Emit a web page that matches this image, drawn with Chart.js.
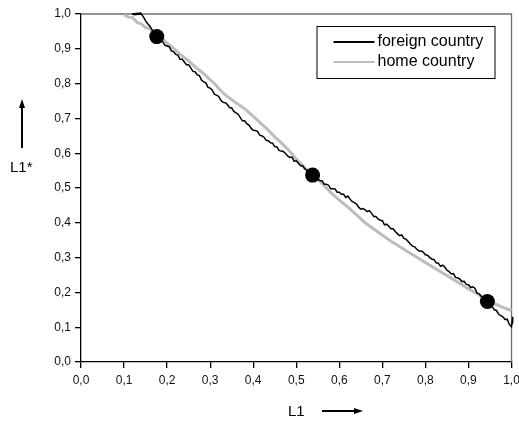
<!DOCTYPE html>
<html>
<head>
<meta charset="utf-8">
<script src="https://cdn.jsdelivr.net/npm/chart.js@4/dist/chart.umd.min.js"></script>
<style>
  html, body { margin: 0; padding: 0; background: #fff; }
  #wrap { width: 519px; height: 421px; position: relative; }
</style>
</head>
<body>
<div id="wrap"><canvas id="c" width="519" height="421"></canvas></div>
<script>
// Axis tick labels (decimal comma)
const xTickLabels = ['0,0','0,1','0,2','0,3','0,4','0,5','0,6','0,7','0,8','0,9','1,0'];
const yTickLabels = ['0,0','0,1','0,2','0,3','0,4','0,5','0,6','0,7','0,8','0,9','1,0'];

const seriesNames = ['foreign country', 'home country'];

// foreign country: L1 values
const foreignL1 = [
  0.118,0.140,0.122,0.140,0.145,0.150,0.155,0.160,0.165,0.170,0.175,
  0.180,0.185,0.190,0.195,0.200,0.205,0.210,0.215,0.220,0.225,0.230,0.235,0.240,0.245,
  0.250,0.255,0.260,0.265,0.270,0.275,0.280,0.285,0.290,0.295,0.300,0.305,0.310,0.315,
  0.320,0.325,0.330,0.335,0.340,0.345,0.350,0.355,0.360,0.365,0.370,0.375,0.380,0.385,
  0.390,0.395,0.400,0.405,0.410,0.415,0.420,0.425,0.430,0.435,0.440,0.445,0.450,0.455,
  0.460,0.465,0.470,0.475,0.480,0.485,0.490,0.495,0.500,0.505,0.510,0.515,0.520,0.525,
  0.530,0.535,0.540,0.545,0.550,0.555,0.560,0.565,0.570,0.575,0.580,0.585,0.590,0.595,
  0.600,0.605,0.610,0.615,0.620,0.625,0.630,0.635,0.640,0.645,0.650,0.655,0.660,0.665,
  0.670,0.675,0.680,0.685,0.690,0.695,0.700,0.705,0.710,0.715,0.720,0.725,0.730,0.735,
  0.740,0.745,0.750,0.755,0.760,0.765,0.770,0.775,0.780,0.785,0.790,0.795,0.800,0.805,
  0.810,0.815,0.820,0.825,0.830,0.835,0.840,0.845,0.850,0.855,0.860,0.865,0.870,0.875,
  0.880,0.885,0.890,0.895,0.900,0.905,0.910,0.915,0.920,0.925,0.930,0.935,0.940,0.945,
  0.950,0.955,0.960,0.965,0.970,0.975,0.980,0.985,0.990,0.995,1.000,1.003,1.002,1.003
];
// foreign country: L1* values
const foreignL1s = [
  1.000,1.003,0.998,1.000,0.992,0.980,0.972,0.965,0.955,0.944,0.937,
  0.932,0.922,0.920,0.910,0.908,0.906,0.894,0.892,0.884,0.882,0.870,0.870,0.862,0.854,
  0.854,0.845,0.835,0.834,0.825,0.823,0.810,0.805,0.802,0.789,0.787,0.781,0.769,0.767,
  0.763,0.752,0.746,0.745,0.740,0.731,0.730,0.720,0.716,0.712,0.702,0.693,0.693,0.685,
  0.681,0.672,0.666,0.665,0.663,0.652,0.650,0.646,0.637,0.636,0.630,0.629,0.619,0.618,
  0.608,0.606,0.605,0.599,0.592,0.588,0.589,0.577,0.578,0.571,0.564,0.564,0.555,0.551,
  0.542,0.542,0.539,0.529,0.527,0.521,0.521,0.511,0.511,0.508,0.498,0.498,0.497,0.488,
  0.488,0.482,0.482,0.473,0.477,0.468,0.461,0.458,0.454,0.445,0.439,0.441,0.437,0.432,
  0.435,0.427,0.418,0.418,0.411,0.407,0.406,0.394,0.396,0.390,0.383,0.383,0.375,0.369,
  0.363,0.365,0.355,0.353,0.346,0.339,0.333,0.331,0.324,0.319,0.319,0.316,0.308,0.307,
  0.300,0.296,0.294,0.285,0.284,0.275,0.278,0.273,0.264,0.260,0.253,0.254,0.243,0.242,
  0.238,0.231,0.232,0.223,0.222,0.214,0.216,0.212,0.198,0.196,0.188,0.186,0.177,0.167,
  0.168,0.160,0.150,0.148,0.138,0.133,0.130,0.122,0.123,0.108,0.101,0.130,0.110,0.125
];

// home country: L1 values
const homeL1 = [
  0.100,0.110,0.120,0.130,0.140,0.150,0.160,0.170,0.180,0.190,0.200,0.210,0.220,0.230,
  0.240,0.250,0.260,0.270,0.280,0.290,0.300,0.310,0.320,0.330,0.340,0.350,0.360,0.370,
  0.380,0.390,0.400,0.410,0.420,0.430,0.440,0.450,0.460,0.470,0.480,0.490,0.500,0.520,
  0.540,0.560,0.580,0.600,0.620,0.640,0.660,0.680,0.700,0.720,0.740,0.760,0.780,0.800,
  0.820,0.840,0.860,0.880,0.900,0.920,0.940,0.960,0.980,1.000
];
// home country: L1* values
const homeL1s = [
  0.998,0.991,0.990,0.976,0.972,0.961,0.958,0.944,0.935,0.928,0.916,0.906,0.896,0.884,
  0.875,0.865,0.854,0.843,0.834,0.823,0.811,0.800,0.786,0.773,0.763,0.754,0.745,0.736,
  0.728,0.717,0.706,0.695,0.683,0.672,0.660,0.647,0.636,0.624,0.612,0.598,0.583,0.558,
  0.536,0.514,0.487,0.465,0.445,0.423,0.400,0.382,0.364,0.347,0.332,0.316,0.301,0.286,
  0.271,0.256,0.241,0.226,0.210,0.196,0.181,0.168,0.157,0.148
];

// highlighted points
const markL1 = [0.176, 0.538, 0.944];
const markL1s = [0.935, 0.537, 0.174];

const toPoints = (xs, ys) => xs.map((x, i) => ({ x: x, y: ys[i] }));

const FONT = '"Liberation Sans", Arial, sans-serif';

const framePlugin = {
  id: 'frame',
  beforeDatasetsDraw(chart) {
    const { ctx, chartArea: a } = chart;
    ctx.save();
    ctx.strokeStyle = '#6f6f6f';
    ctx.lineWidth = 1.3;
    ctx.beginPath();
    ctx.moveTo(a.left, a.top);
    ctx.lineTo(a.right, a.top);
    ctx.lineTo(a.right, a.bottom);
    ctx.stroke();
    ctx.restore();
  },
  afterDraw(chart) {
    const { ctx, chartArea: a } = chart;
    ctx.save();
    // axis titles with arrows
    ctx.fillStyle = '#000';
    ctx.strokeStyle = '#000';
    ctx.font = '15px ' + FONT;
    ctx.textBaseline = 'middle';
    ctx.textAlign = 'left';
    ctx.fillText('L1*', 10, 168);
    ctx.lineWidth = 2;
    ctx.beginPath();
    ctx.moveTo(22, 148); ctx.lineTo(22, 106); ctx.stroke();
    ctx.beginPath();
    ctx.moveTo(22, 99); ctx.lineTo(19, 108); ctx.lineTo(25, 108); ctx.closePath(); ctx.fill();

    ctx.fillText('L1', 288, 412);
    ctx.beginPath();
    ctx.moveTo(322, 411); ctx.lineTo(355, 411); ctx.stroke();
    ctx.beginPath();
    ctx.moveTo(363, 411); ctx.lineTo(354, 408); ctx.lineTo(354, 414); ctx.closePath(); ctx.fill();

    // legend box
    const bx = a.right - 195, by = a.top + 12, bw = 178, bh = 52;
    ctx.fillStyle = '#fff';
    ctx.fillRect(bx, by, bw, bh);
    ctx.lineWidth = 1;
    ctx.strokeStyle = '#000';
    ctx.strokeRect(bx + 0.5, by + 0.5, bw, bh);
    ctx.font = '16px ' + FONT;
    const ds = chart.data.datasets;
    [0, 1].forEach((k, i) => {
      const yy = by + 16 + i * 20;
      ctx.strokeStyle = ds[k].borderColor;
      ctx.lineWidth = 1.8;
      ctx.beginPath();
      ctx.moveTo(bx + 17, yy); ctx.lineTo(bx + 58, yy); ctx.stroke();
      ctx.fillStyle = '#000';
      ctx.fillText(ds[k].label, bx + 61, yy);
    });
    ctx.restore();
  }
};

new Chart(document.getElementById('c'), {
  type: 'scatter',
  data: {
    datasets: [
      {
        label: seriesNames[0],
        data: toPoints(foreignL1, foreignL1s),
        showLine: true,
        borderColor: '#000000',
        borderWidth: 1.5,
        pointRadius: 0,
        tension: 0,
        clip: 6,
        order: 1
      },
      {
        label: seriesNames[1],
        data: toPoints(homeL1, homeL1s),
        showLine: true,
        borderColor: '#bdbdbd',
        borderWidth: 3,
        pointRadius: 0,
        tension: 0,
        clip: 6,
        order: 2
      },
      {
        label: 'marks',
        data: toPoints(markL1, markL1s),
        showLine: false,
        pointRadius: 7.5,
        pointHoverRadius: 7.5,
        backgroundColor: '#000',
        borderColor: '#000',
        borderWidth: 0,
        clip: 10,
        order: 0
      }
    ]
  },
  options: {
    responsive: false,
    animation: false,
    events: [],
    layout: { padding: { left: 0, top: 14, right: 7, bottom: 0 } },
    plugins: { legend: { display: false }, tooltip: { enabled: false } },
    scales: {
      x: {
        type: 'linear',
        min: 0, max: 1,
        afterFit(s) { s.height = 59; s.paddingLeft = 0; s.paddingRight = 0; },
        border: { color: '#000', width: 1.3 },
        grid: { drawOnChartArea: false, drawTicks: true, tickLength: 6, tickColor: '#000', lineWidth: 1.3 },
        ticks: {
          stepSize: 0.1,
          padding: 5,
          color: '#111',
          font: { family: FONT, size: 12 },
          maxRotation: 0,
          autoSkip: false,
          callback: (v, i) => xTickLabels[i]
        }
      },
      y: {
        type: 'linear',
        min: 0, max: 1,
        afterFit(s) { s.width = 81; s.paddingTop = 0; s.paddingBottom = 0; },
        border: { color: '#000', width: 1.3 },
        grid: { drawOnChartArea: false, drawTicks: true, tickLength: 6, tickColor: '#000', lineWidth: 1.3 },
        ticks: {
          stepSize: 0.1,
          padding: 4,
          color: '#111',
          font: { family: FONT, size: 12 },
          autoSkip: false,
          callback: (v, i) => yTickLabels[i]
        }
      }
    }
  },
  plugins: [framePlugin]
});
</script>
</body>
</html>
